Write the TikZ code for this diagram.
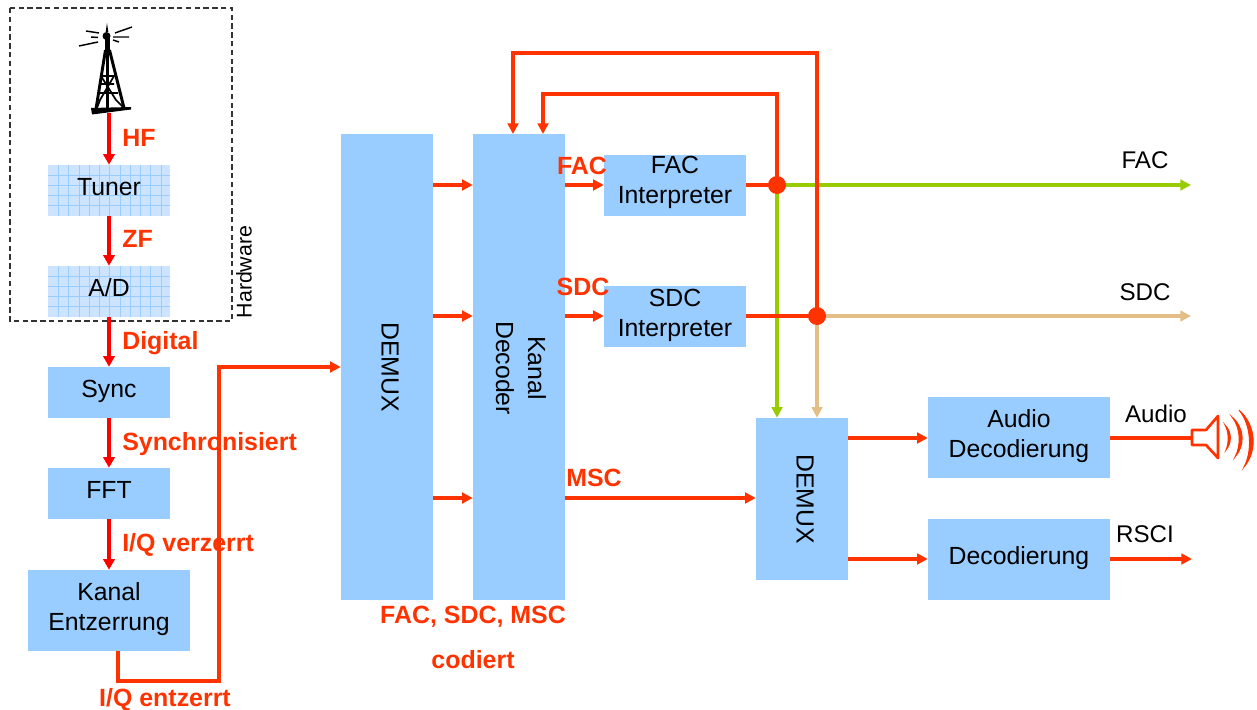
\documentclass[tikz,border=0pt]{standalone}
\usepackage{fontspec}
\setmainfont{Liberation Sans}
\usetikzlibrary{arrows.meta}
\definecolor{boxblue}{RGB}{153,204,255}
\definecolor{gridfill}{RGB}{204,228,255}
\definecolor{linered}{RGB}{255,51,0}
\definecolor{linegreen}{RGB}{153,204,0}
\definecolor{linetan}{RGB}{227,190,135}
\tikzset{
  block/.style={fill=boxblue,inner sep=0pt,align=center,font=\fontsize{18.6}{22.5}\selectfont},
  blocktext/.style={inner sep=0pt,align=center,font=\fontsize{18.6}{22.5}\selectfont},
  oneline/.style={text height=13.3pt,text depth=6.5pt},
  gridblock/.style={fill=gridfill,inner sep=0pt,font=\fontsize{18.6}{22.5}\selectfont,oneline,
    path picture={
      \foreach \i in {1,...,12} {\draw [boxblue,line width=0.4pt] ([xshift=\i*7.7pt]path picture bounding box.south west) -- ([xshift=\i*7.7pt]path picture bounding box.north west);}
      \foreach \i in {1,...,5} {\draw [boxblue,line width=0.4pt] ([yshift=\i*7.7pt]path picture bounding box.south west) -- ([yshift=\i*7.7pt]path picture bounding box.south east);}
    }},
  redlabel/.style={text=linered,font=\fontsize{18.7}{22}\selectfont\bfseries,inner sep=0pt},
  plainlabel/.style={text=black,font=\fontsize{18.1}{22}\selectfont,inner sep=0pt},
  redflow/.style={draw=red,line width=3pt,-{Triangle[length=8pt,width=8.5pt]}},
  orangeflow/.style={draw=linered,line width=2.7pt,-{Triangle[length=8pt,width=8pt]}},
  orangeline/.style={draw=linered,line width=2.7pt,line join=miter},
  greenflow/.style={draw=linegreen,line width=2.7pt,-{Triangle[length=8pt,width=8pt]}},
  tanflow/.style={draw=linetan,line width=2.7pt,-{Triangle[length=8pt,width=8pt]}},
  junction/.style={circle,fill=linered,minimum size=13.5pt,inner sep=0pt},
}
\begin{document}
\begin{tikzpicture}[x=0.75pt,y=0.75pt,yscale=-1,xscale=1]
\useasboundingbox (0,0) rectangle (1257,710);

%Dashed frame
\draw [black!80,line width=0.8pt,dash pattern={on 4pt off 2.6pt}] (10,8) rectangle (232,321);

%Left column
\node [gridblock,minimum width=91.5pt,minimum height=38.25pt] (tuner) at (109,190.5) {Tuner};
\node [gridblock,minimum width=91.5pt,minimum height=38.25pt] (ad) at (109,291.5) {A/D};
\node [block,oneline,minimum width=91.5pt,minimum height=38.25pt] (sync) at (109,392.5) {Sync};
\node [block,oneline,minimum width=91.5pt,minimum height=38.25pt] (fft) at (109,493.5) {FFT};
\node [block,minimum width=121.5pt,minimum height=60.75pt] (entzerrung) at (109,610.5) {};
\node [blocktext] (entzerrungtext) at (109,609) {Kanal\\Entzerrung};

%Middle column
\node [block,minimum width=69pt,minimum height=349.5pt] (demuxa) at (387,367) {};
\node [blocktext,rotate=-90] (demuxatext) at (390,367) {DEMUX};
\node [block,minimum width=69pt,minimum height=349.5pt] (decoder) at (519,367) {};
\node [blocktext,font=\fontsize{18.6}{24}\selectfont,rotate=-90] (decodertext) at (521,368) {Kanal\\Decoder};
\node [block,minimum width=106.5pt,minimum height=45.75pt] (facint) at (675,185.5) {};
\node [blocktext] (facinttext) at (675,182) {FAC\\Interpreter};
\node [block,minimum width=106.5pt,minimum height=45.75pt] (sdcint) at (675,316.5) {};
\node [blocktext] (sdcinttext) at (675,315) {SDC\\Interpreter};
\node [block,minimum width=69pt,minimum height=121.5pt] (demuxb) at (802,499) {};
\node [blocktext,rotate=-90] (demuxbtext) at (805,499) {DEMUX};
\node [block,minimum width=136.5pt,minimum height=60.75pt] (audio) at (1019,437.5) {};
\node [blocktext] (audiotext) at (1019,436) {Audio\\Decodierung};
\node [block,oneline,minimum width=136.5pt,minimum height=60.75pt] (deco) at (1019,559.5) {Decodierung};

%Junctions and free ends
\coordinate (facj) at (777,185);
\coordinate (sdcj) at (817,316);
\coordinate (mast) at (109,113);
\coordinate (facend) at (1191,185);
\coordinate (sdcend) at (1191,316);
\coordinate (speaker) at (1193,438);
\coordinate (rsciend) at (1192,559);

%Mast
\fill [black] (91,108) -- (131,107) -- (131,109.5) -- (92,114.5) -- cycle;
\draw [black,line width=2.2pt] (105.5,50) -- (96,109);
\draw [black,line width=2.2pt] (109.5,50) -- (124,108);
\draw [black,line width=1.6pt] (107.5,44) -- (107.5,110);
\draw [black,line width=1.3pt] (101,76) -- (114,76) -- (100,100) -- (97,108) (101,76) -- (116,100) -- (123,107) (99,93) -- (118,93) (101,84) -- (114,84);
\fill [black] (107,23) -- (108.3,32) -- (105.7,32) -- cycle;
\fill [black] (106.5,36) circle (4);
\fill [black] (104.5,38) rectangle (109.5,52);
\draw [black,line width=1.1pt] (86,31) -- (99,33) (79,46) -- (98,42) (91,37) -- (98,37.5) (115,33) -- (132,27) (113,37) -- (129,37) (113,40) -- (119,42);

%Left flows
\draw [redflow] (mast) -- (tuner);
\draw [redflow] (tuner) -- (ad);
\draw [redflow] (ad) -- (sync);
\draw [redflow] (sync) -- (fft);
\draw [redflow] (fft) -- (entzerrung);
\draw [orangeflow] (118,651) -- (118,681) -- (219,681) -- (219,367) -- (demuxa.west |- 0,367);

%Demux to decoder
\draw [orangeflow] (demuxa.east |- 0,185) -- (decoder.west |- 0,185);
\draw [orangeflow] (demuxa.east |- 0,316) -- (decoder.west |- 0,316);
\draw [orangeflow] (demuxa.east |- 0,498) -- (decoder.west |- 0,498);

%Green and tan outputs
\draw [greenflow] (facj) -- (facend);
\draw [tanflow] (sdcj) -- (sdcend);
\draw [greenflow] (facj) -- (facj |- demuxb.north);
\draw [tanflow] (sdcj) -- (sdcj |- demuxb.north);

%Decoder flows
\draw [orangeflow] (decoder.east |- 0,185) -- (facint.west |- 0,185);
\draw [orangeflow] (decoder.east |- 0,316) -- (sdcint.west |- 0,316);
\draw [orangeflow] (decoder.east |- 0,498) -- (demuxb.west |- 0,498);
\draw [orangeline] (facint.east |- facj) -- (facj);
\draw [orangeline] (sdcint.east |- sdcj) -- (sdcj);
\draw [orangeflow] (facj) -- (777,94) -- (543,94) -- (543,134);
\draw [orangeflow] (sdcj) -- (817,53) -- (513,53) -- (513,134);
\node [junction] (facdot) at (facj) {};
\node [junction] (sdcdot) at (sdcj) {};

%Right flows
\draw [orangeflow] (demuxb.east |- 0,438) -- (audio.west |- 0,438);
\draw [orangeflow] (demuxb.east |- 0,559) -- (deco.west |- 0,559);
\draw [orangeline] (audio.east |- speaker) -- (speaker);
\draw [orangeflow] (deco.east |- rsciend) -- (rsciend);

%Speaker
\draw [linered,line width=2pt,line join=round] (1192,430) -- (1206,430) -- (1218,416) -- (1218,458) -- (1206,445) -- (1192,445) -- cycle;
\draw [linered,fill=linered,line width=0.7pt] (1225,425) .. controls (1232,432) and (1232,443) .. (1226,450) .. controls (1229,443) and (1229,432) .. cycle;
\draw [linered,fill=linered,line width=0.7pt] (1232,417) .. controls (1245,428) and (1245,446) .. (1235,457) .. controls (1241,446) and (1241,428) .. cycle;
\draw [linered,fill=linered,line width=0.7pt] (1239,410) .. controls (1257,426) and (1257,452) .. (1244,467) .. controls (1252,452) and (1252,426) .. cycle;

%Labels
\node [redlabel,anchor=west] (hf) at (122,138) {HF};
\node [redlabel,anchor=west] (zf) at (122,239) {ZF};
\node [redlabel,anchor=west] (digital) at (122,343) {Digital};
\node [redlabel,anchor=west] (synchron) at (122,444) {Synchronisiert};
\node [redlabel,anchor=west] (verzerrt) at (122,545) {I/Q verzerrt};
\node [redlabel] (entzerrt) at (165,700) {I/Q entzerrt};
\node [redlabel] (faclabel) at (582,166) {FAC};
\node [redlabel] (sdclabel) at (583,287) {SDC};
\node [redlabel] (msclabel) at (594,478) {MSC};
\node [redlabel] (coded) at (473,617) {FAC, SDC, MSC};
\node [redlabel] (codiert) at (473,660) {codiert};
\node [plainlabel] (facout) at (1145,160) {FAC};
\node [plainlabel] (sdcout) at (1145,292) {SDC};
\node [plainlabel] (audioout) at (1156,414) {Audio};
\node [plainlabel] (rsciout) at (1145,534) {RSCI};
\node [plainlabel,font=\fontsize{16}{18}\selectfont,rotate=90] (hardware) at (244,272) {Hardware};
\end{tikzpicture}
\end{document}
